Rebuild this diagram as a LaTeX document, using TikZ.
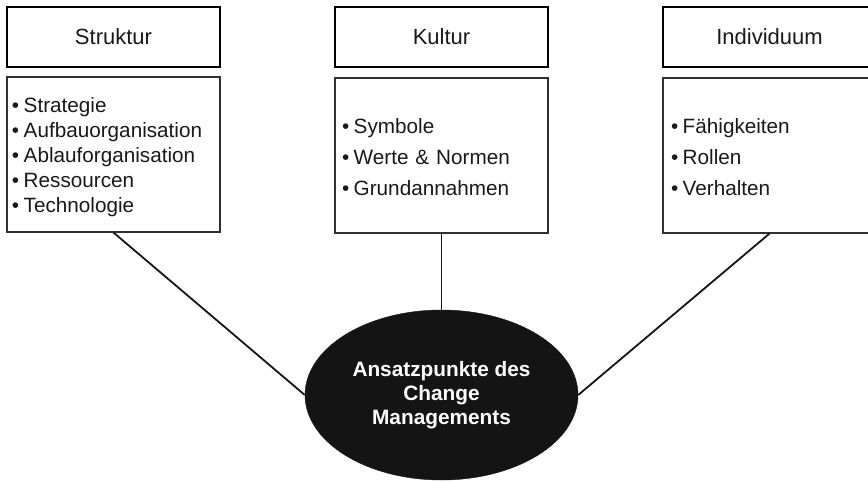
\documentclass[tikz,border=0pt]{standalone}
\usepackage{fontspec}
\setmainfont{Liberation Sans}
\usetikzlibrary{shapes.geometric}
\definecolor{ellfill}{HTML}{141414}
\definecolor{boxline}{HTML}{303030}
\newcommand{\bul}{•\hspace{4.5pt}}
\tikzset{
  titlebox/.style={draw=black, line width=2.4pt, minimum width=213pt, minimum height=60pt,
    inner sep=0pt, font=\fontsize{22}{26}\selectfont, text=black!90},
  listbox/.style={draw=boxline, line width=1.1pt, minimum width=213pt, minimum height=155pt,
    inner ysep=0pt, align=left, text=black!90},
  connector/.style={line width=1.8pt, draw=ellfill},
}
\begin{document}
\begin{tikzpicture}[x=1pt, y=-1pt]
\useasboundingbox (0,0) rectangle (868,482);
% title boxes
\node[titlebox] (ts) at (113.5,37) {Struktur};
\node[titlebox] (tk) at (441.5,37) {Kultur};
\node[titlebox] (ti) at (769.5,37) {Individuum};
% list boxes
\node[listbox, inner xsep=5pt, text width=203pt, font=\fontsize{20.7}{25}\selectfont] (s) at (113.5,154.5)
  {\rule{0pt}{21pt}\bul Strategie\\\bul Aufbauorganisation\\\bul Ablauforganisation\\\bul Ressourcen\\\bul Technologie};
\node[listbox, inner xsep=7pt, text width=199pt, font=\fontsize{20.7}{31}\selectfont] (k) at (441.5,155.5)
  {\rule{0pt}{19pt}\bul Symbole\\\bul Werte \& Normen\\\bul Grundannahmen};
\node[listbox, inner xsep=8pt, text width=197pt, font=\fontsize{20.7}{31}\selectfont] (i) at (769.5,155.5)
  {\rule{0pt}{19pt}\bul Fähigkeiten\\\bul Rollen\\\bul Verhalten};
% ellipse
\node[ellipse, fill=ellfill, draw=ellfill, minimum width=273pt, minimum height=170pt, inner sep=0pt,
  align=center, text=white, font=\fontsize{20.8}{24}\bfseries] (e) at (441.5,395)
  {Ansatzpunkte des\\Change\\Managements};
% connectors
\draw[connector] (s.south) -- (e.west);
\draw[connector] (k.south) -- (e.north);
\draw[connector] (i.south) -- (e.east);
\end{tikzpicture}
\end{document}
